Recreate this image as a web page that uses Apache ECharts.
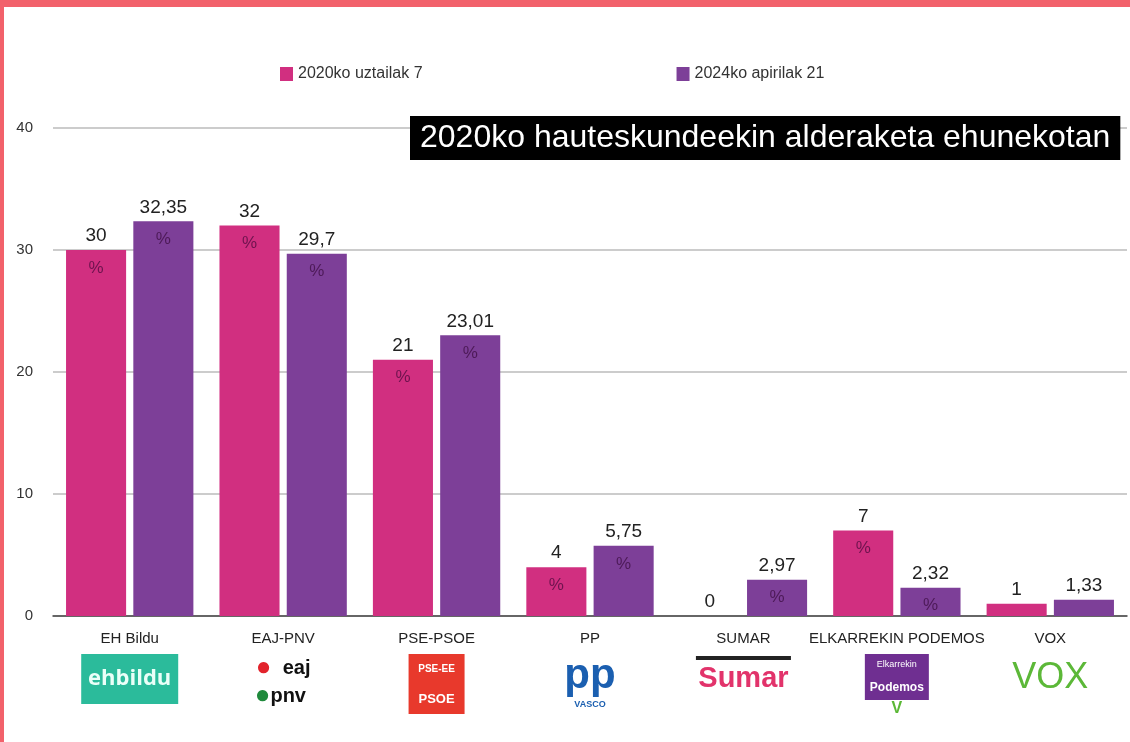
<!DOCTYPE html>
<html>
<head>
<meta charset="utf-8">
<script src="https://cdn.jsdelivr.net/npm/echarts@6/dist/echarts.min.js"></script>
<style>
html,body{margin:0;padding:0;background:#fff;}
#c{width:1130px;height:742px;}
</style>
</head>
<body>
<div id="c"></div>
<script>
const categories = ['EH Bildu','EAJ-PNV','PSE-PSOE','PP','SUMAR','ELKARREKIN PODEMOS','VOX'];
const logoKeys = ['bildu','pnv','psoe','pp','sumar','podemos','vox'];
const seriesNames = ['2020ko uztailak 7','2024ko apirilak 21'];
const values2020 = [30, 32, 21, 4, 0, 7, 1];
const values2024 = [32.35, 29.7, 23.01, 5.75, 2.97, 2.32, 1.33];
const yTicks = [0, 10, 20, 30, 40];
const titleText = '2020ko hauteskundeekin alderaketa ehunekotan';

const logoText = {
  bildu: '{bildu|ehbildu}',
  pnv: '{pr|●}{eaj|  eaj}\n{pg|●}{pnv|pnv }',
  psoe: '{psoe1|PSE-EE}\n{psoe2|PSOE}',
  pp: '{pp|pp}\n{ppv|VASCO}',
  sumar: '{sumline| }\n{sumar|Sumar}',
  podemos: '{pod1|Elkarrekin}\n{pod2|Podemos}\n{podv|V}',
  vox: '{vox|VOX}'
};

function labelFmt(p) {
  const s = String(p.value).replace('.', ',');
  return p.value >= 2 ? '{v|' + s + '}\n{p|%}' : '{v|' + s + '}\n{p| }';
}

const labelCfg = {
  show: true,
  position: 'top',
  distance: -36,
  formatter: labelFmt,
  rich: {
    v: {fontSize: 19, color: '#222', lineHeight: 28, fontFamily: 'Liberation Sans'},
    p: {fontSize: 17, color: 'rgba(45,0,45,0.6)', lineHeight: 36, fontFamily: 'Liberation Sans'}
  }
};

const chart = echarts.init(document.getElementById('c'));
chart.setOption({
  animation: false,
  textStyle: {fontFamily: 'Liberation Sans'},
  legend: {
    top: 61,
    left: 275,
    itemWidth: 13,
    itemHeight: 14,
    itemGap: 254,
    icon: 'rect',
    textStyle: {fontSize: 16, color: '#333', fontFamily: 'Liberation Sans'},
    data: seriesNames
  },
  title: {
    text: titleText,
    left: 410,
    top: 116,
    backgroundColor: '#000',
    padding: [6, 10, 6, 10],
    textStyle: {color: '#fff', fontSize: 32, fontWeight: 'normal', fontFamily: 'Liberation Sans', lineHeight: 32}
  },
  grid: {left: 53, right: 3, top: 128, bottom: 126},
  xAxis: {
    type: 'category',
    data: categories,
    axisTick: {show: false},
    axisLine: {lineStyle: {color: '#444', width: 1.5}},
    axisLabel: {
      interval: 0,
      margin: 8,
      color: '#222',
      formatter: function (v, i) {
        return '{n|' + v + '}\n' + logoText[logoKeys[i]];
      },
      rich: {
        n: {fontSize: 15, color: '#222', lineHeight: 30, fontFamily: 'Liberation Sans'},
        bildu: {fontSize: 22, fontWeight: 'bold', color: '#eafff8', backgroundColor: '#2bbb9b', width: 97, height: 50, align: 'center', lineHeight: 50, fontFamily: 'Open Sans'},
        pr: {fontSize: 26, color: '#e2232c', lineHeight: 28},
        pg: {fontSize: 26, color: '#1f8a3c', lineHeight: 28},
        eaj: {fontSize: 20, fontWeight: 'bold', color: '#111', lineHeight: 28},
        pnv: {fontSize: 20, fontWeight: 'bold', color: '#111', lineHeight: 28},
        psoe1: {fontSize: 10, fontWeight: 'bold', color: '#fff', backgroundColor: '#e8392c', width: 56, height: 30, align: 'center', lineHeight: 30},
        psoe2: {fontSize: 13, fontWeight: 'bold', color: '#fff', backgroundColor: '#e8392c', width: 56, height: 30, align: 'center', lineHeight: 30},
        pp: {fontSize: 42, fontWeight: 'bold', color: '#1b5fb0', lineHeight: 44, fontFamily: 'Liberation Sans'},
        ppv: {fontSize: 9, fontWeight: 'bold', color: '#1b5fb0', lineHeight: 14},
        sumline: {fontSize: 1, backgroundColor: '#222', width: 95, height: 4, lineHeight: 8},
        sumar: {fontSize: 29, fontWeight: 'bold', color: '#e2336b', lineHeight: 34, fontFamily: 'Liberation Sans'},
        pod1: {fontSize: 9, color: '#fff', backgroundColor: '#6f2f91', width: 64, height: 22, align: 'center', lineHeight: 22},
        pod2: {fontSize: 12, fontWeight: 'bold', color: '#fff', backgroundColor: '#6f2f91', width: 64, height: 24, align: 'center', lineHeight: 24},
        podv: {fontSize: 16, fontWeight: 'bold', color: '#5bb836', lineHeight: 18},
        vox: {fontSize: 36, color: '#5cb838', lineHeight: 48, fontFamily: 'Liberation Sans'}
      }
    }
  },
  yAxis: {
    type: 'value',
    min: 0,
    max: 40,
    interval: 10,
    axisLine: {show: false},
    axisTick: {show: false},
    axisLabel: {
      margin: 20,
      fontSize: 15,
      color: '#333',
      formatter: function (v) { return yTicks.indexOf(v) >= 0 ? String(v) : ''; }
    },
    splitLine: {lineStyle: {color: '#bbb', width: 1.5}}
  },
  series: [
    {
      name: seriesNames[0],
      type: 'bar',
      data: values2020,
      itemStyle: {color: '#d12f80'},
      barGap: '12%',
      barCategoryGap: '17%',
      label: labelCfg
    },
    {
      name: seriesNames[1],
      type: 'bar',
      data: values2024,
      itemStyle: {color: '#7d3f98'},
      barGap: '12%',
      barCategoryGap: '17%',
      label: labelCfg
    }
  ],
  graphic: [
    {type: 'rect', left: 0, top: 0, shape: {width: 1130, height: 7}, style: {fill: '#f2616b'}, z: 100},
    {type: 'rect', left: 0, top: 0, shape: {width: 4, height: 742}, style: {fill: '#f2616b'}, z: 100}
  ]
});
</script>
</body>
</html>
